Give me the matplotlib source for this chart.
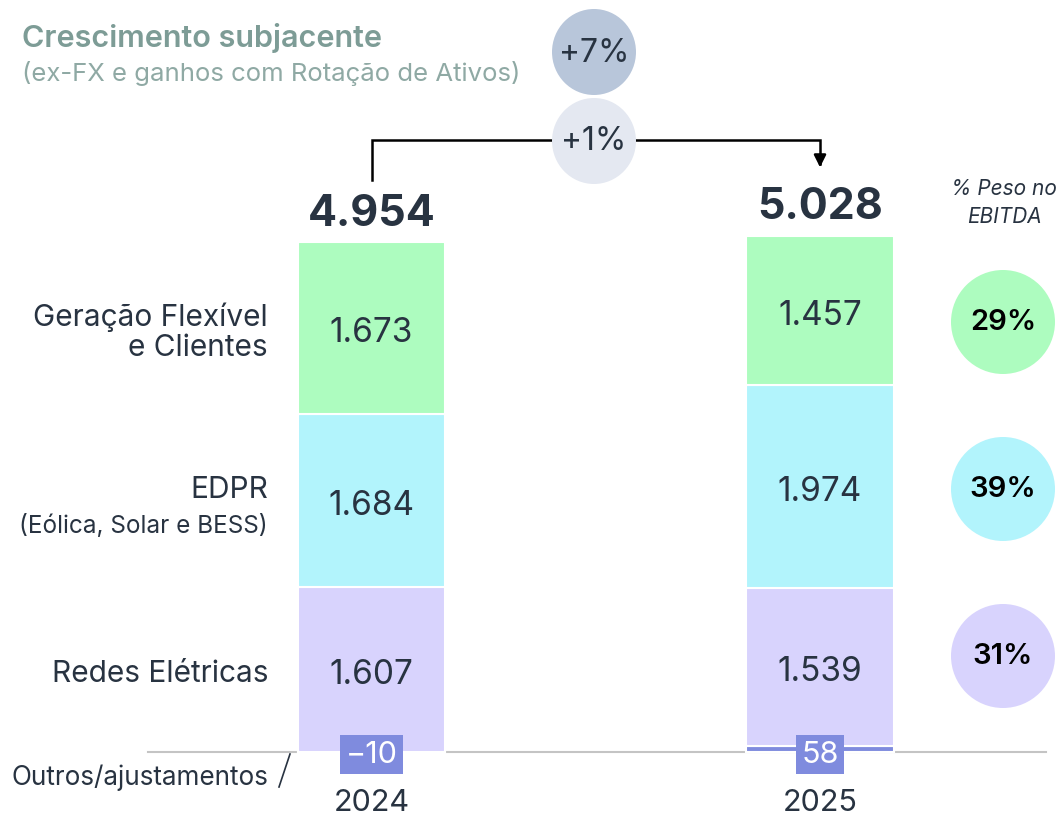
import numpy as np
import matplotlib.pyplot as plt
from matplotlib.patches import Ellipse

plt.rcParams['font.family'] = ['Inter', 'DejaVu Sans']

# ---- data ----
years = ['2024', '2025']
totals = [4954, 5028]
outros = [-10, 58]
redes = [1607, 1539]
edpr = [1684, 1974]
flex = [1673, 1457]
peso = ['31%', '39%', '29%']  # redes, edpr, flex
growth_under = '+7%'
growth_rep = '+1%'

c_flex = '#adfcbf'
c_edpr = '#b2f4fc'
c_redes = '#d8d3fd'
c_outros = '#7f8bde'
c_txt = '#283341'

W, H = 1064, 820
fig = plt.figure(figsize=(W / 100, H / 100), dpi=100)
ax = fig.add_axes([0, 0, 1, 1])
ax.set_xlim(-0.8283, 1.544)
ax.set_ylim(-653, 7334)
ax.axis('off')


def fx(x):
    return x / W


def fy(y):
    return 1 - y / H


x = np.arange(len(years))
bw = 0.328
base = np.maximum(outros, 0)

ax.bar(x, outros, bw, color=c_outros, edgecolor='white', linewidth=1.5, zorder=2)
ax.bar(x, redes, bw, bottom=base, color=c_redes, edgecolor='white', linewidth=1.5, zorder=2)
b2 = base + np.array(redes)
ax.bar(x, edpr, bw, bottom=b2, color=c_edpr, edgecolor='white', linewidth=1.5, zorder=2)
b3 = b2 + np.array(edpr)
ax.bar(x, flex, bw, bottom=b3, color=c_flex, edgecolor='white', linewidth=1.5, zorder=2)

ax.axhline(0, xmin=fx(148), xmax=fx(1046), color='#c4c4c4', lw=1.5, zorder=1)

for i in range(len(years)):
    for bot, val in [(base[i], redes[i]), (b2[i], edpr[i]), (b3[i], flex[i])]:
        ax.text(x[i], bot + val / 2 - 40, f'{val / 1000:.3f}', ha='center', va='center',
                fontsize=24, color=c_txt, zorder=3)
    ax.text(x[i], totals[i] + 90, f'{totals[i] / 1000:.3f}', ha='center', va='bottom',
            fontsize=31, fontweight='bold', color=c_txt)
    ax.text(x[i], -490, years[i], ha='center', va='center', fontsize=22, color=c_txt)
    lab = f'{outros[i]}'.replace('-', '\u2212')
    ax.text(x[i], -20, lab, ha='center', va='center', fontsize=22, color='white', zorder=4,
            bbox=dict(boxstyle='square,pad=0.18', fc=c_outros, ec='none'))

# left category labels
lx = fx(268)
tr = ax.get_yaxis_transform()
ax.text(lx, redes[0] / 2 - 30, 'Redes Elétricas', transform=tr,
        ha='right', va='center', fontsize=21.5, color=c_txt)
ax.text(lx, b3[0] + flex[0] / 2 - 30, 'Geração Flexível\ne Clientes', transform=tr,
        ha='right', va='center', fontsize=21.5, color=c_txt, linespacing=1.1)
ax.text(lx, b2[0] + edpr[0] / 2 + 110, 'EDPR', transform=tr,
        ha='right', va='center', fontsize=21.5, color=c_txt)
ax.text(lx, b2[0] + edpr[0] / 2 - 240, '(Eólica, Solar e BESS)', transform=tr,
        ha='right', va='center', fontsize=17.5, color=c_txt)
fig.text(fx(268), fy(778), 'Outros/ajustamentos', ha='right', va='center', fontsize=18.8, color=c_txt)
fig.add_artist(plt.Line2D([fx(290), fx(279)], [fy(755), fy(788)], color=c_txt, lw=1.2))

# header
fig.text(fx(22), fy(38), 'Crescimento subjacente', ha='left', va='center',
         fontsize=22, fontweight='semibold', color='#7d9c96')
fig.text(fx(22), fy(74), '(ex-FX e ganhos com Rotação de Ativos)', ha='left', va='center',
         fontsize=18.5, color='#8fa9a4')

# bracket arrow between totals (y in data units: 9.74 units per pixel)
y_top = 5960
ax.plot([0, 0, 1, 1], [totals[0] + 620, y_top, y_top, totals[1] + 700], color='black', lw=1.8,
        solid_joinstyle='miter', zorder=1)
ax.annotate('', xy=(1, totals[1] + 640), xytext=(1, totals[1] + 800),
            arrowprops=dict(arrowstyle='-|>', color='black', lw=1.8, mutation_scale=18))

for cy, col, t in [(53, '#b8c6da', growth_under), (142, '#e4e8f1', growth_rep)]:
    fig.add_artist(Ellipse((fx(594), fy(cy)), 84 / W, 86 / H, fc=col, ec='none', zorder=5))
    fig.text(fx(594), fy(cy), t, ha='center', va='center', fontsize=23, color=c_txt, zorder=6)

# right side weights
fig.text(fx(1004), fy(203), '% Peso no\nEBITDA', ha='center', va='center', fontsize=15,
         style='italic', color=c_txt, linespacing=1.45)
for cy, col, t in [(657, c_redes, peso[0]), (490, c_edpr, peso[1]), (323, c_flex, peso[2])]:
    fig.add_artist(Ellipse((fx(1003), fy(cy)), 104 / W, 104 / H, fc=col, ec='none'))
    fig.text(fx(1003), fy(cy), t, ha='center', va='center', fontsize=21, fontweight='semibold',
             color='black')

fig.savefig('out.png', dpi=100)
